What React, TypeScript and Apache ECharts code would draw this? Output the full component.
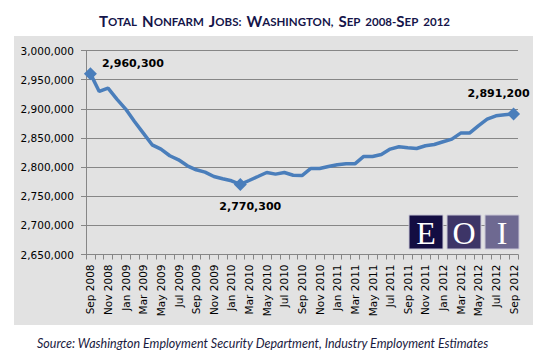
import React, { useEffect, useRef } from "react";
import * as echarts from "echarts";

const categories = [
  "Sep 2008", "Oct 2008", "Nov 2008", "Dec 2008",
  "Jan 2009", "Feb 2009", "Mar 2009", "Apr 2009", "May 2009", "Jun 2009",
  "Jul 2009", "Aug 2009", "Sep 2009", "Oct 2009", "Nov 2009", "Dec 2009",
  "Jan 2010", "Feb 2010", "Mar 2010", "Apr 2010", "May 2010", "Jun 2010",
  "Jul 2010", "Aug 2010", "Sep 2010", "Oct 2010", "Nov 2010", "Dec 2010",
  "Jan 2011", "Feb 2011", "Mar 2011", "Apr 2011", "May 2011", "Jun 2011",
  "Jul 2011", "Aug 2011", "Sep 2011", "Oct 2011", "Nov 2011", "Dec 2011",
  "Jan 2012", "Feb 2012", "Mar 2012", "Apr 2012", "May 2012", "Jun 2012",
  "Jul 2012", "Aug 2012", "Sep 2012",
];

const jobs = [
  2960300, 2929700, 2935500, 2916700,
  2899500, 2878200, 2858300, 2838200, 2830800, 2819400,
  2812500, 2802200, 2795300, 2791400, 2783800, 2779900,
  2776500, 2770300, 2777000, 2783800, 2790700, 2787900,
  2790700, 2786000, 2785500, 2797600, 2797600, 2801000,
  2803900, 2805600, 2805600, 2818200, 2818200, 2821600,
  2830800, 2834800, 2833100, 2831900, 2836500, 2838700,
  2843400, 2848000, 2858300, 2858300, 2870800, 2882300,
  2888000, 2889700, 2891200,
];

const yMin = 2650000;
const yMax = 3000000;
const yStep = 50000;

const titleText = "Total Nonfarm Jobs: Washington, Sep 2008-Sep 2012";
const sourceText =
  "Source: Washington Employment Security Department, Industry Employment Estimates";
const logoLetters = ["E", "O", "I"];

const fmt = (v: number) => String(v).replace(/\B(?=(\d{3})+(?!\d))/g, ",");

// Build a small-caps rich string from the title
const smallCaps = (s: string) =>
  s
    .split(/(\s+)/)
    .map((w) => {
      if (/^\s+$/.test(w)) return w;
      const first = w[0];
      const rest = w.slice(1);
      if (/[A-Z]/.test(first)) {
        return `{b|${first}}` + (rest ? `{s|${rest.toUpperCase().replace(/-S/, "-}{b|S}{s|")}}` : "");
      }
      return `{s|${w.toUpperCase().replace(/-S/, "-}{b|S}{s|")}}`;
    })
    .join("");

const callouts: Record<number, { position: string; offset: number[] }> = {
  0: { position: "right", offset: [0, -10] },
  17: { position: "bottom", offset: [10, 5] },
  48: { position: "top", offset: [-15, -3] },
};

export default function App() {
  const ref = useRef<HTMLDivElement>(null);
  useEffect(() => {
    if (!ref.current) return;
    const chart = echarts.init(ref.current, null, { renderer: "svg" });
    const seriesData = jobs.map((v, i) => {
      const c = callouts[i];
      if (!c) return v;
      return {
        value: v,
        symbol: "diamond",
        symbolSize: 13,
        label: {
          show: true,
          position: c.position,
          offset: c.offset,
          formatter: fmt(v),
          fontFamily: "DejaVu Sans",
          fontWeight: "bold",
          fontSize: 11,
          color: "#000",
        },
      };
    });
    const logoColors = ["#130d42", "#3d3567", "#6e6991"];
    const logoX = [409, 447, 485];
    chart.setOption({
      animation: false,
      backgroundColor: "#ffffff",
      title: {
        text: smallCaps(titleText),
        left: "center",
        top: 7,
        textStyle: {
          rich: {
            b: { fontFamily: "Lato", fontWeight: "bold", fontSize: 15, color: "#15154a" },
            s: { fontFamily: "Lato", fontWeight: "bold", fontSize: 11.5, color: "#15154a" },
          },
        },
      },
      grid: { left: 86, top: 50.5, width: 432, height: 204, containLabel: false },
      xAxis: {
        type: "category",
        data: categories,
        boundaryGap: true,
        axisLine: { show: true, lineStyle: { color: "#868686", width: 1 } },
        axisTick: { show: true, interval: 0, length: 5, lineStyle: { color: "#868686" } },
        axisLabel: {
          interval: 1,
          rotate: 90,
          margin: 10,
          fontFamily: "DejaVu Sans",
          fontSize: 10.5,
          color: "#000",
        },
        splitLine: { show: false },
      },
      yAxis: {
        type: "value",
        min: yMin,
        max: yMax,
        interval: yStep,
        axisLine: { show: true, lineStyle: { color: "#868686", width: 1 } },
        axisTick: { show: true, length: 5, lineStyle: { color: "#868686" } },
        axisLabel: {
          margin: 12,
          fontFamily: "DejaVu Sans",
          fontSize: 10.5,
          color: "#000",
          formatter: (v: number) => fmt(v),
        },
        splitLine: { show: true, lineStyle: { color: "#868686", width: 1 } },
      },
      series: [
        {
          type: "line",
          data: seriesData,
          symbol: "none",
          showSymbol: true,
          showAllSymbol: true,
          lineStyle: { color: "#4a7ebb", width: 3.5 },
          itemStyle: { color: "#4a7ebb" },
          z: 3,
        },
      ],
      graphic: [
        {
          type: "rect",
          z: -10,
          shape: { x: 14, y: 36, width: 519, height: 289 },
          style: { fill: "#e2e2e2" },
          silent: true,
        },
        ...logoLetters.flatMap((ch, i) => [
          {
            type: "rect",
            z: 50,
            shape: { x: logoX[i], y: 215, width: 34, height: 34 },
            style: { fill: logoColors[i], stroke: "#c9c7d6", lineWidth: 1 },
          },
          {
            type: "text",
            z: 51,
            x: logoX[i] + 17,
            y: 233,
            style: {
              text: ch,
              fill: "#ffffff",
              font: "32px 'Liberation Serif'",
              textAlign: "center",
              textVerticalAlign: "middle",
            },
          },
        ]),
        {
          type: "text",
          x: 37,
          y: 343,
          style: {
            text: sourceText,
            fill: "#1a1a40",
            font: "italic 12.5px Lato",
            textAlign: "left",
            textVerticalAlign: "middle",
          },
        },
      ],
    });
    return () => chart.dispose();
  }, []);
  return (
    <div
      ref={ref}
      style={{ position: "fixed", left: 0, top: 0, width: 549, height: 358 }}
    />
  );
}
